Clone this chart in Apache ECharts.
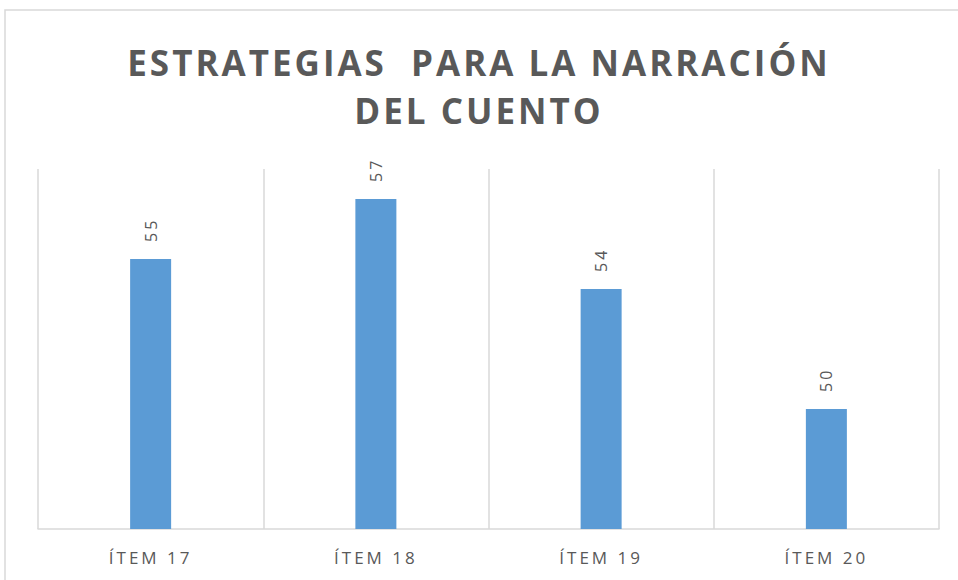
<!DOCTYPE html>
<html>
<head>
<meta charset="utf-8">
<script src="https://cdn.jsdelivr.net/npm/echarts@6/dist/echarts.min.js"></script>
<style>
  html, body { margin: 0; padding: 0; background: #fff; }
  #chart { width: 958px; height: 580px; }
  /* spaced-out lettering like the office chart */
  #chart svg text { letter-spacing: 3px; }
</style>
</head>
<body>
<div id="chart"></div>
<script>
// data
const categories = ['ÍTEM 17', 'ÍTEM 18', 'ÍTEM 19', 'ÍTEM 20'];
const values = [55, 57, 54, 50];
const titleText = 'ESTRATEGIAS  PARA LA NARRACIÓN\nDEL CUENTO';

const chart = echarts.init(document.getElementById('chart'), null, { renderer: 'svg' });

const option = {
  animation: false,
  backgroundColor: '#fff',
  title: {
    text: titleText,
    left: 'center',
    top: 33,
    textStyle: {
      fontFamily: 'Open Sans',
      fontWeight: 'bold',
      fontSize: 35,
      lineHeight: 48,
      color: '#595959'
    }
  },
  graphic: [{
    type: 'polyline',
    shape: { points: [[5, 580], [5, 10], [958, 10]] },
    style: { stroke: '#d9d9d9', lineWidth: 1.5, fill: null },
    silent: true
  }],
  grid: { left: 38, right: 19, top: 169, bottom: 51 },
  xAxis: {
    type: 'category',
    data: categories,
    axisLine: { lineStyle: { color: '#d9d9d9', width: 1.5 } },
    axisTick: { show: false },
    axisLabel: {
      color: '#595959',
      fontFamily: 'Open Sans',
      fontSize: 17,
      margin: 20
    },
    splitLine: { show: true, interval: 0, lineStyle: { color: '#d9d9d9', width: 1.5 } }
  },
  yAxis: {
    type: 'value',
    min: 46,
    max: 58,
    show: false
  },
  series: [{
    type: 'bar',
    data: values,
    barWidth: 41,
    itemStyle: { color: '#5b9bd5' },
    label: {
      show: true,
      position: 'top',
      rotate: 90,
      align: 'left',
      verticalAlign: 'middle',
      distance: 14,
      offset: [3, 0],
      color: '#595959',
      fontFamily: 'Open Sans',
      fontSize: 16
    }
  }]
};

chart.setOption(option);
</script>
</body>
</html>
